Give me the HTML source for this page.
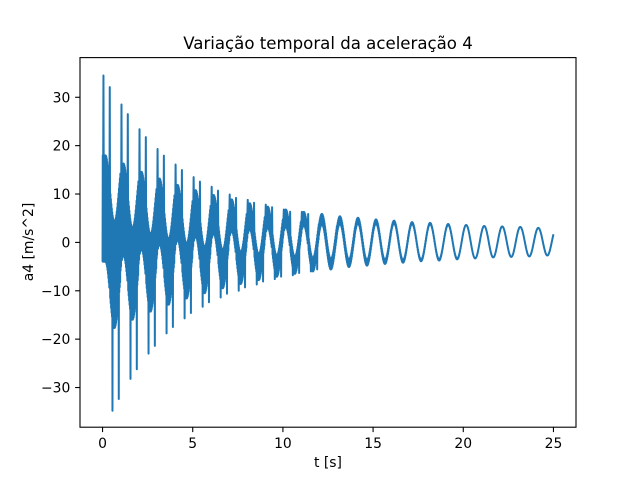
<!DOCTYPE html>
<html><head><meta charset="utf-8"><style>
body{margin:0;background:#fff}
svg{display:block;font-family:"DejaVu Sans","Liberation Sans",sans-serif}
</style></head><body>
<svg id="chart" width="640" height="480" viewBox="0 0 640 480">
<rect width="640" height="480" fill="#fff"/>
<g id="plot"></g>
<rect x="80" y="57.6" width="496" height="369.6" fill="none" stroke="#000" stroke-width="1.1"/>
<g id="xt"></g><g id="yt"></g>
<text x="328" y="49" font-size="16.6" text-anchor="middle">Variação temporal da aceleração 4</text>
<text x="328" y="467" font-size="13.9" text-anchor="middle">t [s]</text>
<text x="33" y="242" font-size="13.9" text-anchor="middle" transform="rotate(-90 33 242)">a4 [m/s^2]</text>
</svg>
<script>
const xTicks=[0,5,10,15,20,25];
const yTicks=[-30,-20,-10,0,10,20,30];
const peaks=[7,6.8,6.6,6.4,6.2,6,5.8,5.6,5.4,5.2,5.0,4.9,4.8,4.6,4.5,4.3,4.2,4.0,3.9,3.7,3.6,3.4,3.3,3.2,3.0];
const troughs=[-6.7,-6.5,-6.3,-6.1,-5.9,-5.7,-5.5,-5.3,-5.1,-4.9,-4.7,-4.6,-4.5,-4.3,-4.2,-4.0,-3.9,-3.7,-3.6,-3.4,-3.3,-3.1,-3.0,-2.9,-2.7];
const fastAmp=[11,9.5,8,6.8,5.7,4.8,4,3.3,2.7,2.2,1.8,1.4,1.1,0.8,0.6,0.45,0.3,0.2,0.15,0.1,0.05,0.05,0.05,0.05,0.05];
const spikeHi=[34.5,28.5,23.4,19.3,16.1,13.5,11.5,9.9,8.8,7.8,6.8,6.3];
const spikeLo=[-34.8,-28.2,-23,-18.8,-15.7,-13.3,-11.4,-10,-8.7,-7.6,-6.8,-6.0];

const X0=80,X1=576,Y0=57.6,Y1=427.2,xmin=-1.25,xmax=26.25,ymin=-38.2,ymax=38.2;
const sx=t=>X0+(t-xmin)/(xmax-xmin)*(X1-X0);
const sy=v=>Y1-(v-ymin)/(ymax-ymin)*(Y1-Y0);
const NS='http://www.w3.org/2000/svg';

const ext=[];
for(let k=0;k<peaks.length;k++){ext.push([k+0.16,peaks[k]]);ext.push([k+0.66,troughs[k]]);}
function base(t){
  if(t<=ext[0][0]){return ext[0][1];}
  for(let i=0;i<ext.length-1;i++){
    const a=ext[i],b=ext[i+1];
    if(t>=a[0]&&t<=b[0]){const f=(t-a[0])/(b[0]-a[0]);return a[1]+(b[1]-a[1])*(1-Math.cos(f*Math.PI))/2;}
  }
  const a=ext[ext.length-1],f=(t-a[0])/0.5;
  return a[1]+(peaks[peaks.length-1]-a[1])*(1-Math.cos(f*Math.PI))/2;
}
const pts=[];
const dt=0.0125;
for(let i=0;i*dt<=25.0001;i++){
  const t=i*dt,k=Math.min(Math.floor(t),fastAmp.length-1);
  const fa=fastAmp[k]*(i%2?1:-1);
  let v=base(t)+fa;
  const ph=t-Math.floor(t);
  if(k<spikeHi.length){
    if(Math.abs(ph-0.05)<dt/2)v=spikeHi[k];
    else if(Math.abs(ph-0.4)<dt/2)v=spikeHi[k]*0.93;
    else if(Math.abs(ph-0.55)<dt/2)v=spikeLo[k];
    else if(Math.abs(ph-0.9)<dt/2)v=spikeLo[k]*0.93;
  }
  if(fastAmp[k]<0.1)v=base(t);
  pts.push(sx(t).toFixed(2)+','+sy(v).toFixed(2));
}
const line=document.createElementNS(NS,'polyline');
line.setAttribute('points',pts.join(' '));
line.setAttribute('fill','none');line.setAttribute('stroke','#1f77b4');
line.setAttribute('stroke-width','2');line.setAttribute('stroke-linejoin','round');


document.getElementById('plot').appendChild(line);

const xt=document.getElementById('xt');
xTicks.forEach(v=>{
  const g=document.createElementNS(NS,'g');
  
  
  const x=sx(v);
  g.innerHTML=`<line x1="${x}" x2="${x}" y1="427.2" y2="432.1" stroke="#000" stroke-width="1.1"/><text x="${x}" y="448" font-size="13.9" text-anchor="middle">${v}</text>`;
  xt.appendChild(g);
});
const yt=document.getElementById('yt');
yTicks.forEach(v=>{
  const g=document.createElementNS(NS,'g');
  
  
  const y=sy(v);
  g.innerHTML=`<line x1="75.1" x2="80" y1="${y}" y2="${y}" stroke="#000" stroke-width="1.1"/><text x="70.3" y="${y+5}" font-size="13.9" text-anchor="end">${v<0?'\u2212'+(-v):v}</text>`;
  yt.appendChild(g);
});
</script>
</body></html>
